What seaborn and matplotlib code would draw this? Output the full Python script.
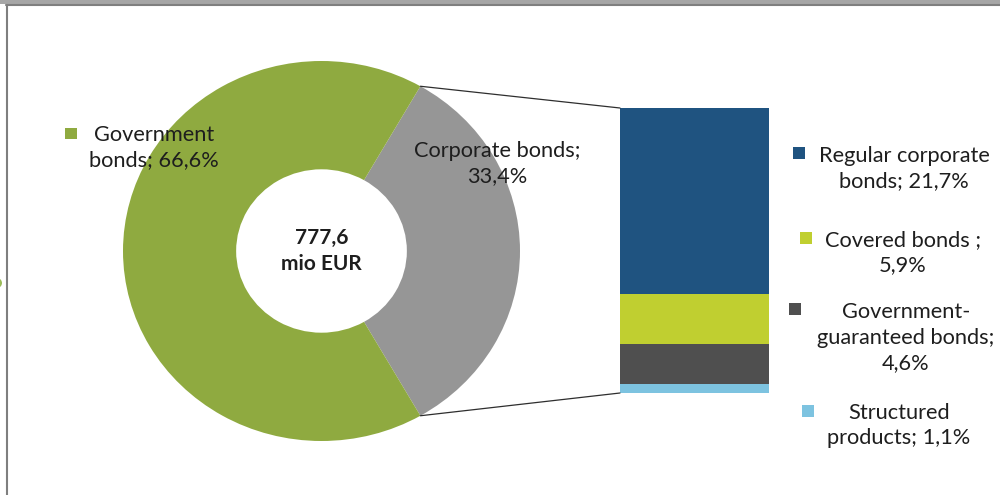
import numpy as np
import matplotlib
matplotlib.use("Agg")
import matplotlib.pyplot as plt
from matplotlib.patches import Rectangle, Ellipse, ConnectionPatch
from matplotlib.lines import Line2D
import seaborn as sns

# ---- data -------------------------------------------------------------
pie_labels = ["Corporate bonds", "Government bonds"]
pie_values = [33.4, 66.6]
pie_colors = ["#969696", "#8FAA40"]

total_amount = "777,6"
total_unit = "mio EUR"

# breakdown of corporate bonds (top of the stack first)
sub_labels = ["Regular corporate\nbonds; ", "Covered bonds ;\n",
              "Government-\nguaranteed bonds;\n", "Structured\nproducts; "]
sub_values = [21.7, 5.9, 4.6, 1.1]
sub_colors = ["#1F5380", "#C0CF30", "#4F4F4F", "#7DC3E0"]

# ---- style ------------------------------------------------------------
sns.set_theme(style="white")
plt.rcParams["font.family"] = ["Lato", "DejaVu Sans"]
TXT = "#1E1E1E"
FS = 15.7
LS = 1.32

W, H = 1000, 495
fig = plt.figure(figsize=(W / 100, H / 100), dpi=100)
fig.patch.set_facecolor("white")


def rect(x0, y0, x1, y1):
    """pixel box (top-left origin) -> figure fraction [l, b, w, h]"""
    return [x0 / W, 1 - y1 / H, (x1 - x0) / W, (y1 - y0) / H]


def fpt(x, y):
    return x / W, 1 - y / H


def pct(v):
    return f"{v:.1f}%".replace(".", ",")


# ---- donut --------------------------------------------------------------
axp = fig.add_axes(rect(123, 61, 520, 441))
start = -pie_values[0] / 100 * 360 / 2
wedges, _ = axp.pie(pie_values, colors=pie_colors, startangle=start,
                    radius=1.0, counterclock=True,
                    wedgeprops=dict(width=0.57, linewidth=0, edgecolor="none"))
axp.set_aspect("auto")
axp.set_xlim(-1, 1)
axp.set_ylim(-1, 1)
axp.axis("off")

axp.text(0.0, 0.0, f"{total_amount}\n{total_unit}", ha="center", va="center",
         fontsize=15, fontweight="bold", color=TXT, linespacing=1.4)

# ---- stacked bar ------------------------------------------------------
axb = fig.add_axes(rect(620, 108, 769, 393))
cum = np.cumsum(sub_values[::-1])[::-1]  # cumulative heights, tallest first
for h, c in zip(cum, sub_colors):
    sns.barplot(x=["Corporate"], y=[h], color=c, width=1.0, saturation=1,
                linewidth=0, ax=axb)
axb.set_xlim(-0.5, 0.5)
axb.set_ylim(0, cum[0])
axb.axis("off")

# connector lines from wedge edges to the bar
theta = np.deg2rad(pie_values[0] / 100 * 360 / 2)
for sgn, yb in [(1, cum[0]), (-1, 0)]:
    con = ConnectionPatch(xyA=(np.cos(theta), sgn * np.sin(theta)), coordsA=axp.transData,
                          xyB=(-0.5, yb), coordsB=axb.transData,
                          color="#2E2E2E", linewidth=0.9)
    fig.add_artist(con)

# ---- labels -------------------------------------------------------------
gov_name = pie_labels[1].replace(" ", "\n")
fig.text(*fpt(154, 148), f"{gov_name}; {pct(pie_values[1])}",
         ha="center", va="center", fontsize=FS, color=TXT, linespacing=LS)
fig.add_artist(Rectangle(fpt(65, 139), 12 / W, 11 / H, transform=fig.transFigure,
                         facecolor=pie_colors[1], edgecolor="none"))
fig.text(*fpt(497, 164), f"{pie_labels[0]};\n{pct(pie_values[0])}",
         ha="center", va="center", fontsize=FS, color=TXT, linespacing=LS)

# bar legend
text_pos = [(904, 168.5), (903, 252.5), (906, 337.5), (899, 425.5)]
box_pos = [(793, 147), (800, 232), (789, 303), (802, 405)]
for lab, v, c, (tx, ty), (bx, by) in zip(sub_labels, sub_values, sub_colors,
                                         text_pos, box_pos):
    fig.text(*fpt(tx, ty), lab + pct(v), ha="center", va="center",
             fontsize=FS, color=TXT, linespacing=LS)
    fig.add_artist(Rectangle(fpt(bx, by + 12), 12 / W, 12 / H,
                             transform=fig.transFigure, facecolor=c,
                             edgecolor="none"))

# ---- frame ----------------------------------------------------------------
fig.add_artist(Rectangle((0, 1 - 4 / H), 1, 4 / H, transform=fig.transFigure,
                         facecolor="#A6A6A6", edgecolor="none"))
fig.add_artist(Line2D([6 / W, 1], [1 - 5 / H] * 2, transform=fig.transFigure,
                      color="#7F7F7F", linewidth=1.5))
fig.add_artist(Line2D([6.5 / W] * 2, [1 - 5 / H, 0], transform=fig.transFigure,
                      color="#7F7F7F", linewidth=1.5))
fig.add_artist(Ellipse(fpt(-3, 283), 10 / W, 10 / H, transform=fig.transFigure,
                       facecolor="#9BBB59", edgecolor="none"))

fig.savefig("out.png", dpi=100)
